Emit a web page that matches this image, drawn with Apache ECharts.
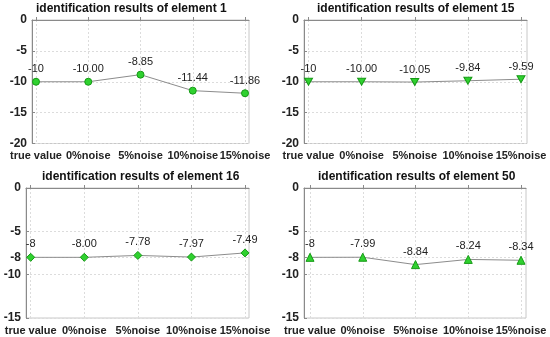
<!DOCTYPE html>
<html><head><meta charset="utf-8">
<script src="https://cdn.jsdelivr.net/npm/echarts@6/dist/echarts.min.js"></script>
<style>html,body{margin:0;padding:0;background:#fff}#c{width:550px;height:337px}</style>
</head><body><div id="c"></div>
<script>
const categories = ['true value', '0%noise', '5%noise', '10%noise', '15%noise'];
const titles = ['identification results of element 1', 'identification results of element 15',
                'identification results of element 16', 'identification results of element 50'];
const element1 = [-10, -10.00, -8.85, -11.44, -11.86];
const element15 = [-10, -10.00, -10.05, -9.84, -9.59];
const element16 = [-8, -8.00, -7.78, -7.97, -7.49];
const element50 = [-8, -7.99, -8.84, -8.24, -8.34];
const ticksTop = [0, -5, -10, -15, -20];
const ticksBottom = [0, -5, -8, -10, -15];

const FONT = '"Liberation Sans", Arial, sans-serif';
const panels = [
  {data: element1, ticks: ticksTop, min: -20, symbol: 'circle', frame: [32, 20, 249, 143.5], dx: [36, 245], title: [36, 3]},
  {data: element15, ticks: ticksTop, min: -20, symbol: 'path://M0,0 L10,0 L5,9 Z', frame: [304, 20, 527, 143.5], dx: [308.5, 521], title: [317, 3]},
  {data: element16, ticks: ticksBottom, min: -15, symbol: 'diamond', frame: [26, 188, 249, 318], dx: [30.7, 245], title: [42, 171]},
  {data: element50, ticks: ticksBottom, min: -15, symbol: 'triangle', frame: [304, 188, 526, 318], dx: [310, 521], title: [318, 171]}
];

const grid = [], xAxis = [], yAxis = [], series = [], title = [];
panels.forEach((p, i) => {
  const [l, t, r, b] = p.frame;
  title.push({text: titles[i], left: p.title[0], top: p.title[1], padding: 0,
    textStyle: {fontFamily: FONT, fontWeight: 'bold', fontSize: 12, color: '#111'}});
  // frame grid
  const gf = grid.length;
  grid.push({left: l, top: t, width: r - l, height: b - t, show: true, borderColor: '#c8c8c8', borderWidth: 1, backgroundColor: 'transparent'});
  xAxis.push({type: 'value', gridIndex: gf, min: 0, max: 1, show: true,
    axisLine: {show: true, lineStyle: {color: '#8a8a8a'}}, axisTick: {show: false}, axisLabel: {show: false}, splitLine: {show: false}});
  yAxis.push({type: 'value', gridIndex: gf, min: p.min, max: 0,
    axisLine: {show: true, lineStyle: {color: '#8a8a8a'}},
    axisTick: {show: true, inside: true, length: 3, customValues: p.ticks, lineStyle: {color: '#8a8a8a'}},
    axisLabel: {customValues: p.ticks, fontFamily: FONT, fontWeight: 'bold', fontSize: 12, color: '#222', margin: 5},
    splitLine: {show: true, lineStyle: {color: '#dcdcdc', type: [2, 2]}}});
  // data grid
  const gd = grid.length;
  grid.push({left: p.dx[0], top: t, width: p.dx[1] - p.dx[0], height: b - t});
  xAxis.push({type: 'category', gridIndex: gd, data: categories, boundaryGap: false,
    axisLine: {show: false},
    axisTick: {show: true, inside: true, length: 3, lineStyle: {color: '#8a8a8a'}},
    axisLabel: {fontFamily: FONT, fontWeight: 'bold', fontSize: 11, color: '#222', margin: 7, interval: 0},
    splitLine: {show: true, lineStyle: {color: '#dcdcdc', type: [2, 2]}}});
  yAxis.push({type: 'value', gridIndex: gd, min: p.min, max: 0, show: false, splitLine: {show: false}});
  series.push({type: 'line', xAxisIndex: xAxis.length - 1, yAxisIndex: yAxis.length - 1,
    data: p.data, symbol: p.symbol, symbolSize: p.symbol === 'circle' ? 7 : (i === 1 ? [8, 7] : 8),
    lineStyle: {color: '#8c8c8c', width: 1},
    itemStyle: {color: '#2fd12f', borderColor: '#169a16', borderWidth: 1},
    label: {show: true, position: 'top', distance: 3, fontFamily: FONT, fontSize: 11, color: '#222',
      formatter: (d) => d.dataIndex === 0 ? String(d.value) : d.value.toFixed(2)},
    animation: false, z: 5});
});

const chart = echarts.init(document.getElementById('c'), null, {renderer: 'canvas'});
chart.setOption({animation: false, backgroundColor: '#fff', title, grid, xAxis, yAxis, series});
</script></body></html>
